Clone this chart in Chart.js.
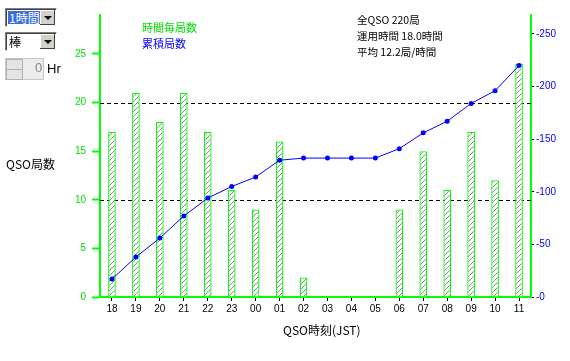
<!DOCTYPE html>
<html><head><meta charset="utf-8">
<script src="https://cdn.jsdelivr.net/npm/chart.js@4/dist/chart.umd.min.js"></script>
<style>
html,body{margin:0;padding:0;background:#fff;width:570px;height:361px;overflow:hidden;font-family:"Noto Sans CJK JP","Liberation Sans",sans-serif;}
#wrap{position:relative;width:570px;height:361px;}
canvas{position:absolute;left:0;top:0;}
.t{position:absolute;white-space:nowrap;line-height:1;}
.sel{position:absolute;left:5px;width:50px;height:17px;border:1px solid #808080;border-right-color:#fff;border-bottom-color:#fff;box-shadow:inset 1px 1px 0 #404040;background:#fff;}
.sel .v{position:absolute;left:2px;top:2px;height:13px;font-size:12px;line-height:13px;padding:0 1px;}
.sel .b{position:absolute;right:1px;top:1px;width:15px;height:15px;background:#d4d0c8;box-shadow:inset -1px -1px 0 #404040,inset 1px 1px 0 #fff;}
.sel .b:after{content:"";position:absolute;left:4px;top:6px;border-left:4px solid transparent;border-right:4px solid transparent;border-top:4px solid #000;}
</style></head><body>
<div id="wrap">
<canvas id="c" width="570" height="361"></canvas>
<div class="sel" style="top:8px"><div class="v" style="background:#3a6fd8;color:#fff">1時間</div><div class="b"></div></div>
<div class="sel" style="top:32px"><div class="v">棒</div><div class="b"></div></div>
<div style="position:absolute;left:5px;top:58px;width:37px;height:20px;background:#ececec;border:1px solid #c8c8c8"></div>
<div style="position:absolute;left:6px;top:59px;width:15px;height:9px;background:#e4e4e4;border:1px solid #b0b0b0"></div>
<div style="position:absolute;left:6px;top:69px;width:15px;height:9px;background:#e4e4e4;border:1px solid #b0b0b0"></div>
<div class="t" style="left:35px;top:61px;font-size:13px;color:#888;font-family:'Liberation Sans'">0</div>
<div class="t" style="left:47px;top:62px;font-size:13px;color:#000;font-family:'Liberation Sans'">Hr</div>
<div class="t" style="left:142px;top:22px;font-size:11px;color:#00e000">時間毎局数</div>
<div class="t" style="left:142px;top:38px;font-size:11px;color:#0000ff">累積局数</div>
<div class="t" style="left:357px;top:15px;font-size:10.5px;color:#000">全QSO 220局</div>
<div class="t" style="left:357px;top:31px;font-size:10.5px;color:#000">運用時間 18.0時間</div>
<div class="t" style="left:357px;top:47px;font-size:10.5px;color:#000">平均 12.2局/時間</div>
<div class="t" style="left:6px;top:158px;font-size:12px;color:#000">QSO局数</div>
<div class="t" style="left:283px;top:324px;font-size:12px;color:#000">QSO時刻(JST)</div>
</div>
<script>
const hours = ["18","19","20","21","22","23","00","01","02","03","04","05","06","07","08","09","10","11"];
const perHour = [17,21,18,21,17,11,9,16,2,0,0,0,9,15,11,17,12,24];
const cumulative = [17,38,56,77,94,105,114,130,132,132,132,132,141,156,167,184,196,220];
const leftTicks = [0,5,10,15,20,25];
const rightTicks = [0,50,100,150,200,250];
const dashedLevels = [10,20];

const pc = document.createElement('canvas');
pc.width = 5; pc.height = 5;
const px = pc.getContext('2d');
px.fillStyle = '#fff'; px.fillRect(0,0,5,5);
px.strokeStyle = '#8a8a8a'; px.lineWidth = 1;
px.beginPath(); px.moveTo(0,5); px.lineTo(5,0); px.stroke();
const ctx0 = document.getElementById('c').getContext('2d');
const hatch = ctx0.createPattern(pc,'repeat');

const green = '#00ff00';
const dashPlugin = {
  id:'dash',
  beforeDatasetsDraw(chart){
    const {ctx, chartArea:a, scales:{y}} = chart;
    ctx.save();
    ctx.strokeStyle = '#000'; ctx.lineWidth = 1; ctx.setLineDash([4,3]);
    dashedLevels.forEach(v=>{
      const yy = Math.round(y.getPixelForValue(v))+0.5;
      ctx.beginPath(); ctx.moveTo(a.left, yy); ctx.lineTo(a.right, yy); ctx.stroke();
    });
    ctx.restore();
  }
};

new Chart(document.getElementById('c'), {
  data:{
    labels: hours,
    datasets:[
      {type:'line', data: cumulative, yAxisID:'y1', borderColor:'#0000ff', backgroundColor:'#0000ff', borderWidth:1, pointRadius:2.5, pointBorderWidth:0, tension:0, order:0},
      {type:'bar', data: perHour, yAxisID:'y', backgroundColor: hatch, borderColor: green, borderWidth:1.3, barPercentage:0.32, categoryPercentage:1, order:1}
    ]
  },
  options:{
    responsive:false, animation:false, devicePixelRatio:1,
    layout:{padding:{top:15,left:0,right:0,bottom:0}},
    plugins:{legend:{display:false}, tooltip:{enabled:false}},
    scales:{
      x:{
        offset:true,
        grid:{display:true, drawOnChartArea:false, tickLength:4, tickColor:'#000', offset:false},
        border:{color:green, width:2},
        ticks:{color:'#000', font:{family:'Liberation Sans', size:10}, padding:2, maxRotation:0, autoSkip:false},
        afterFit(s){ s.height = 64; }
      },
      y:{
        position:'left', min:0, max:29,
        afterBuildTicks(s){ s.ticks = leftTicks.map(v=>({value:v})); },
        grid:{drawOnChartArea:false, tickLength:8, tickColor:green, tickWidth:2},
        border:{color:green, width:2},
        ticks:{color:'#00e000', font:{family:'Liberation Sans', size:10}, padding:6},
        afterFit(s){ s.width = 100; }
      },
      y1:{
        position:'right', min:0, max:268,
        afterBuildTicks(s){ s.ticks = rightTicks.map(v=>({value:v})); },
        grid:{drawOnChartArea:false, tickLength:4, tickColor:'#000', tickBorderDash:[2,2]},
        border:{color:green, width:2},
        ticks:{color:'#0000ff', font:{family:'Liberation Sans', size:10}, padding:1, callback:v=>'-'+v},
        afterFit(s){ s.width = 39; }
      }
    }
  },
  plugins:[dashPlugin]
});
</script>
</body></html>
